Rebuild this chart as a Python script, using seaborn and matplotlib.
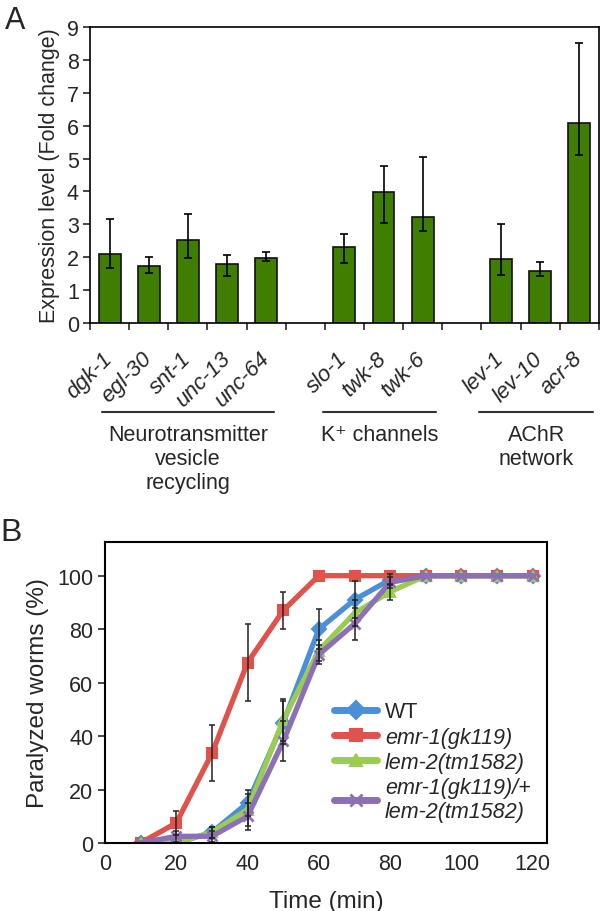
import numpy as np
import pandas as pd
import matplotlib
matplotlib.use('Agg')
import matplotlib.pyplot as plt
import seaborn as sns
from matplotlib.transforms import blended_transform_factory

# panel A: expression levels
genes = ['dgk-1', 'egl-30', 'snt-1', 'unc-13', 'unc-64',
         'slo-1', 'twk-8', 'twk-6',
         'lev-1', 'lev-10', 'acr-8']
fold = [2.10, 1.73, 2.53, 1.78, 1.98, 2.30, 3.99, 3.22, 1.95, 1.57, 6.09]
err_low = [1.66, 1.52, 1.99, 1.44, 1.90, 1.81, 3.04, 2.79, 1.47, 1.43, 5.10]
err_high = [3.17, 2.00, 3.33, 2.07, 2.15, 2.72, 4.78, 5.04, 3.01, 1.87, 8.52]
slots = genes[:5] + ['gap1'] + genes[5:8] + ['gap2'] + genes[8:]
groups = ['Neurotransmitter\nvesicle\nrecycling', 'K\u207a channels', 'AChR\nnetwork']
group_span = [(-0.2, 4.2), (5.45, 8.35), (9.45, 12.35)]

# panel B: paralysis time course
times = [10, 20, 30, 40, 50, 60, 70, 80, 90, 100, 110, 120]
strains = ['WT', 'emr-1(gk119)', 'lem-2(tm1582)', 'emr-1(gk119)/+\nlem-2(tm1582)']
wt = [0, 0, 4, 15, 45, 80, 91, 98.5, 100, 100, 100, 100]
emr = [0, 7.5, 33.5, 67.5, 87, 100, 100, 100, 100, 100, 100, 100]
lem = [0, 0, 4, 12.5, 46, 72, 86, 94, 100, 100, 100, 100]
dbl = [0, 2.5, 2.5, 10, 38, 70.5, 82, 97.5, 100, 100, 100, 100]
wt_err = [0, 0, 2, 5, 8, 7.5, 7, 2, 0, 0, 0, 0]
emr_err = [0, 4.5, 10.5, 14.5, 7, 0, 0, 0, 0, 0, 0, 0]
lem_err = [0, 0, 2, 6, 8, 4, 5, 3, 0, 0, 0, 0]
dbl_err = [0, 2, 2, 5, 7.5, 3.5, 6, 2, 0, 0, 0, 0]
colors = ['#4b8fd9', '#e0524c', '#9bcc52', '#8d6fb5']
markers = ['D', 's', '^', 'X']

sns.set_style('ticks')
plt.rcParams['font.family'] = ['Liberation Sans', 'DejaVu Sans']

fig = plt.figure(figsize=(6, 9.12), dpi=100)
axA = fig.add_axes([0.15, 0.6447, 0.848, 0.3246])
axB = fig.add_axes([0.175, 0.0746, 0.7367, 0.33])

# ---- A
dfA = pd.DataFrame({'gene': genes, 'fold': fold})
sns.barplot(data=dfA, x='gene', y='fold', order=slots, color='#3f7e00',
            saturation=1, edgecolor='#111111', linewidth=1.2, width=0.56,
            errorbar=None, ax=axA)
pos = [slots.index(g) for g in genes]
fold_a = np.array(fold)
axA.errorbar(pos, fold, yerr=[fold_a - np.array(err_low), np.array(err_high) - fold_a],
             fmt='none', ecolor='black', elinewidth=1.2, capsize=3, capthick=1.2)
axA.set_xlim(-0.5, len(slots) - 0.5)
axA.set_ylim(0, 9)
axA.set_yticks(range(10))
axA.set_xticks(range(len(slots)))
axA.set_xticklabels([s if s in genes else '' for s in slots], rotation=45,
                    ha='right', va='center', rotation_mode='anchor',
                    fontstyle='italic', fontsize=16)
axA.set_xticks(np.arange(-0.5, len(slots)), minor=True)
axA.tick_params(axis='x', which='major', length=0, pad=23)
axA.tick_params(axis='x', which='minor', length=5, width=1.2, direction='out')
axA.tick_params(axis='y', length=5, width=1.2, labelsize=15.5, pad=3)
axA.set_xlabel('')
axA.set_ylabel('Expression level (Fold change)', fontsize=15.5, labelpad=5)
for sp in axA.spines.values():
    sp.set_linewidth(1.2)
    sp.set_color('black')

trans = blended_transform_factory(axA.transData, axA.transAxes)
for name, (x0, x1) in zip(groups, group_span):
    axA.plot([x0, x1], [-0.299, -0.299], color='#333333', lw=1.5,
             transform=trans, clip_on=False)
    axA.text((x0 + x1) / 2, -0.34, name, transform=trans, ha='center', va='top',
             fontsize=15.5, linespacing=1.2)

# ---- B
dfB = pd.DataFrame({
    'time': times * 4,
    'pct': wt + emr + lem + dbl,
    'strain': np.repeat(strains, len(times)),
})
sns.lineplot(data=dfB, x='time', y='pct', hue='strain', style='strain',
             hue_order=strains, style_order=strains, palette=colors,
             markers=dict(zip(strains, markers)), dashes=False,
             linewidth=3.8, markersize=7, markeredgecolor=None,
             markeredgewidth=1.5, ax=axB)
# the double mutant uses a thin cross, not a filled one
axB.lines[3].set_marker('x')
axB.lines[3].set_markeredgewidth(2)
for vals, errs in [(wt, wt_err), (emr, emr_err), (lem, lem_err), (dbl, dbl_err)]:
    t = np.array(times)
    v = np.array(vals)
    e = np.array(errs)
    m = e > 0
    axB.errorbar(t[m], v[m], yerr=e[m], fmt='none', ecolor='#222222',
                 elinewidth=1.1, capsize=2.5, capthick=1.1)
axB.set_xlim(0, 124)
axB.set_ylim(0, 112.6)
axB.set_xticks(range(0, 121, 20))
axB.set_yticks(range(0, 101, 20))
axB.tick_params(axis='both', labelsize=15.5, length=5, width=1.2)
axB.tick_params(axis='x', length=0, pad=7)
axB.set_xlabel('Time (min)', fontsize=17.5, labelpad=12)
axB.set_ylabel('Paralyzed worms (%)', fontsize=17.5, labelpad=6)
for sp in axB.spines.values():
    sp.set_linewidth(1.5)
    sp.set_color('black')

sns.move_legend(axB, 'upper left', bbox_to_anchor=(0.475, 0.535), frameon=False,
                title=None, fontsize=15.5, handlelength=2.0, labelspacing=0.2,
                handletextpad=0.35)
leg = axB.get_legend()
for h in leg.legend_handles:
    h.set_linewidth(5)
    h.set_markersize(9)
leg.legend_handles[3].set_marker('x')
leg.legend_handles[3].set_markeredgewidth(2)
for t in leg.get_texts():
    if t.get_text() != 'WT':
        t.set_fontstyle('italic')

fig.text(0.008, 0.993, 'A', fontsize=22, va='top', ha='left')
fig.text(0.0, 0.432, 'B', fontsize=23, va='top', ha='left')

fig.savefig('out.png', dpi=100)
